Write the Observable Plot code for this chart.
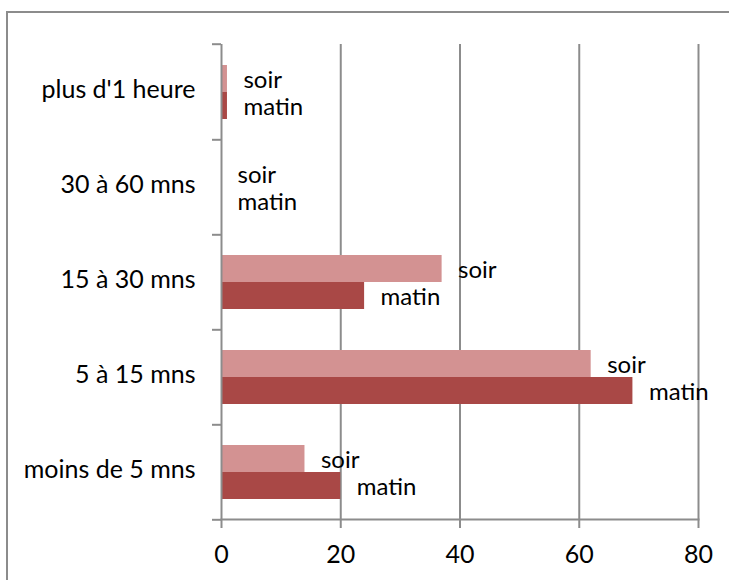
<!DOCTYPE html>
<html>
<head>
<meta charset="utf-8">
<script src="https://cdn.jsdelivr.net/npm/d3@7"></script>
<script src="https://cdn.jsdelivr.net/npm/@observablehq/plot@0.6"></script>
<style>
  html, body { margin: 0; padding: 0; background: #fff; overflow: hidden; }
  #wrap { position: relative; width: 729px; height: 580px; overflow: hidden; }
  #border { position: absolute; left: 6px; top: 11px; width: 800px; height: 700px; border: 2px solid #8c8c8c; box-sizing: border-box; }
  #chart { position: absolute; left: 0; top: 0; }
</style>
</head>
<body>
<div id="wrap"><div id="border"></div><div id="chart"></div></div>
<script>
const categories = ["plus d'1 heure", "30 à 60 mns", "15 à 30 mns", "5 à 15 mns", "moins de 5 mns"];
const series = ["soir", "matin"];
const soirValues = [1, 0, 37, 62, 14];
const matinValues = [1, 0, 24, 69, 20];
const xTicks = [0, 20, 40, 60, 80];
const colors = ["#D39292", "#A94846"];

const data = categories.flatMap((c, i) => [
  {cat: c, serie: "soir", value: soirValues[i]},
  {cat: c, serie: "matin", value: matinValues[i]}
]);

const W = 729, H = 580, mT = 42, mB = 60, mL = 221, mR = 31;
const facetH = (H - mT - mB) / categories.length;
const grid = "#8c8c8c";

const chart = Plot.plot({
  width: W, height: H,
  marginTop: mT, marginBottom: mB, marginLeft: mL, marginRight: mR,
  style: {fontFamily: "Lato, sans-serif", fontSize: "25px", color: "#000", background: "transparent"},
  x: {domain: [0, 80], label: null},
  y: {domain: series, paddingInner: 0, paddingOuter: 0.75, axis: null},
  fy: {domain: categories, paddingInner: 0, paddingOuter: 0, label: null, axis: null},
  color: {domain: series, range: colors},
  marks: [
    Plot.ruleX(xTicks.slice(1), {stroke: grid, strokeWidth: 2, strokeOpacity: 1}),
    Plot.barX(data, {fy: "cat", y: "serie", x: "value", fill: "serie"}),
    Plot.text(data, {fy: "cat", y: "serie", x: "value", text: "serie", dx: 16, dy: 1, textAnchor: "start", fill: "#000", fontSize: 24}),
    Plot.ruleX([0], {stroke: grid, strokeWidth: 2}),
    Plot.frame({anchor: "bottom", facetAnchor: "bottom", stroke: grid, strokeWidth: 2}),
    Plot.axisX({ticks: xTicks, tickSize: 9, tickPadding: 17, stroke: grid, strokeWidth: 2, label: null, fill: "#000", strokeOpacity: 1}),
    Plot.axisFy({anchor: "left", tickSize: 0, tickPadding: 26, label: null, fill: "#000", dy: -2}),
    Plot.axisFy({anchor: "left", text: null, tickSize: 9, dy: facetH / 2, stroke: grid, strokeWidth: 2, strokeOpacity: 1, label: null}),
    Plot.axisFy({anchor: "left", ticks: [categories[0]], text: null, tickSize: 9, dy: -facetH / 2, stroke: grid, strokeWidth: 2, strokeOpacity: 1, label: null})
  ]
});
document.getElementById("chart").appendChild(chart);
</script>
</body>
</html>
